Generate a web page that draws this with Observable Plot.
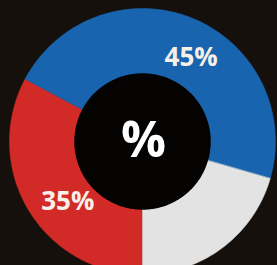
<!DOCTYPE html>
<html><head><meta charset="utf-8">
<script src="https://cdn.jsdelivr.net/npm/d3@7"></script>
<script src="https://cdn.jsdelivr.net/npm/@observablehq/plot@0.6"></script>
<style>
html,body{margin:0;padding:0;background:#15100b;overflow:hidden}
svg{display:block}
</style></head>
<body><div id="chart"></div>
<script>
// Data
const categories = ["Red", "Blue", "Gray"];
const shares = [32.8, 46.7, 20.5];          // angular share of each arc
const labels = ["35%", "45%", ""];          // printed labels
const centerLabel = "%";
const colors = ["#d22a27", "#1864ae", "#e3e3e3"];

// geometry
const W = 277, H = 265;
const cx = 142, cy = 141;
const R = 133, r0 = 67, startDeg = 180;

const total = d3.sum(shares);
const slices = [];
let acc = startDeg;
shares.forEach((v, i) => {
  const a0 = acc, a1 = acc + v / total * 360;
  acc = a1;
  slices.push({cat: categories[i], a0, a1, label: labels[i]});
});

const rad = d => d * Math.PI / 180;
const pts = [];
for (const s of slices) {
  const n = Math.max(2, Math.ceil(s.a1 - s.a0));
  for (let k = 0; k <= n; k++) {
    const a = rad(s.a0 + (s.a1 - s.a0) * k / n);
    pts.push({cat: s.cat, x: R * Math.sin(a), y: R * Math.cos(a)});
  }
  for (let k = n; k >= 0; k--) {
    const a = rad(s.a0 + (s.a1 - s.a0) * k / n);
    pts.push({cat: s.cat, x: r0 * Math.sin(a), y: r0 * Math.cos(a)});
  }
}
const hole = d3.range(0, 361, 2).map(d => ({x: (r0 + 0.5) * Math.sin(rad(d)), y: (r0 + 0.5) * Math.cos(rad(d))}));
const labelPts = slices.filter(s => s.label).map(s => {
  const m = rad((s.a0 + s.a1) / 2), rr = (R + r0) / 2;
  return {x: rr * Math.sin(m), y: rr * Math.cos(m), label: s.label};
});

const chart = Plot.plot({
  width: W, height: H,
  marginTop: 0, marginRight: 0, marginBottom: 0, marginLeft: 0,
  style: {background: "#15100b"},
  x: {domain: [-cx, W - cx], axis: null},
  y: {domain: [cy - H, cy], axis: null},
  color: {type: "ordinal", domain: categories, range: colors},
  marks: [
    Plot.line(pts, {x: "x", y: "y", z: "cat",
      fill: {value: "cat", scale: "color"}, stroke: {value: "cat", scale: "color"},
      strokeWidth: 0.5, curve: "linear-closed"}),
    Plot.line(hole, {x: "x", y: "y", fill: "#050302", stroke: "#050302", curve: "linear-closed"}),
    Plot.text(labelPts, {x: "x", y: "y", text: "label", dx: 11, dy: 9, fill: "#f6f0e8",
      fontSize: 26, fontWeight: "bold", fontFamily: "Open Sans"}),
    Plot.text([centerLabel], {x: () => 0, y: () => 0, text: d => d, dx: 1, dy: -1, fill: "#ffffff",
      fontSize: 50, fontWeight: "bold", fontFamily: "Open Sans"})
  ]
});
document.getElementById("chart").appendChild(chart);
</script></body></html>
